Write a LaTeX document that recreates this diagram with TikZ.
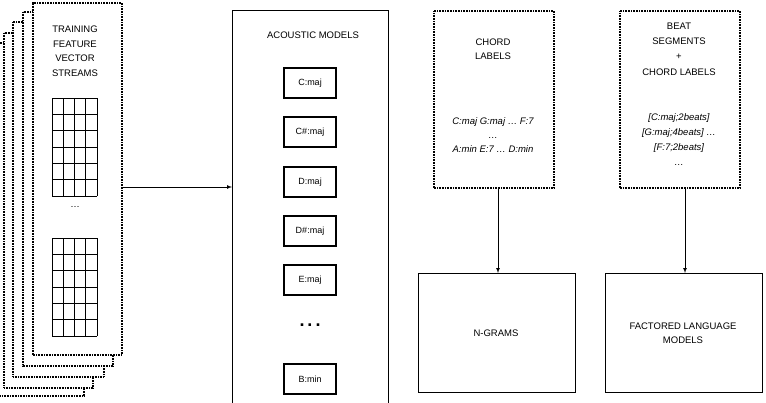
\documentclass[tikz,border=0pt]{standalone}
\usepackage{fontspec}
\setmainfont{Liberation Sans}
\begin{document}
\begin{tikzpicture}[x=1pt,y=-1pt,
  dots/.style={line width=1.5pt,dash pattern=on 1pt off 0.6pt},
  sheet/.style={draw,dots,fill=white},
  dbox/.style={draw,dots},
  sbox/.style={draw,line width=0.7pt},
  mbox/.style={draw,line width=1.5pt,minimum width=52pt,minimum height=30pt,inner sep=0pt,font=\fontsize{9}{10}\selectfont},
  txt/.style={align=center,font=\fontsize{9.5}{14.5}\selectfont,inner sep=0pt},
  itxt/.style={align=center,font=\fontsize{9.5}{14.5}\itshape\selectfont,inner sep=0pt},
  gridl/.style={line width=0.6pt},
  arr/.style={-latex,line width=0.7pt}]
\useasboundingbox (0,0) rectangle (766,402);
\begin{scope}
\clip (0,0) rectangle (766,402);
\draw[sheet] (-5,43) rectangle (84,396);
\draw[sheet] (4,33) rectangle (93,388);
\draw[sheet] (13,22) rectangle (104,377);
\draw[sheet] (23,12) rectangle (113,366);
\node[sheet,minimum width=89pt,minimum height=352pt,anchor=north west,inner sep=0pt] (front) at (32,2) {};
\node[txt] (ttl) at (75,51) {TRAINING\\FEATURE\\VECTOR\\STREAMS};
\node[inner sep=0pt,minimum width=45pt,minimum height=98pt,anchor=north west] (g1) at (52,98) {};
\node[inner sep=0pt,minimum width=45pt,minimum height=98pt,anchor=north west] (g2) at (52,238) {};
\foreach \y in {98,238}{
  \foreach \i in {0,...,4} \draw[gridl] ({52+11.25*\i},\y) -- ({52+11.25*\i},\y+98);
  \foreach \j in {0,...,6} \draw[gridl] (52,{\y+98/6*\j}) -- (97,{\y+98/6*\j});
}
\node[txt] (d1) at (75,207) {\dots};
\node[sbox,minimum width=156pt,minimum height=400pt,anchor=north west,inner sep=0pt] (ac) at (232,10) {};
\node[txt] (act) at (313,35) {ACOUSTIC MODELS};
\node[mbox] (m1) at (310,83) {C:maj};
\node[mbox] (m2) at (310,132) {C\#:maj};
\node[mbox] (m3) at (310,182) {D:maj};
\node[mbox] (m4) at (310,231) {D\#:maj};
\node[mbox] (m5) at (310,280) {E:maj};
\node[font=\fontsize{18}{18}\bfseries\selectfont,inner sep=0pt] (md) at (310,325) {.\,.\,.};
\node[mbox] (m6) at (310,379) {B:min};
\end{scope}
\coordinate (fa) at (121,187);
\coordinate (aa) at (232,187);
\draw[arr] (fa) -- (aa);
\node[dbox,minimum width=120pt,minimum height=177pt,anchor=north west,inner sep=0pt] (ch) at (433,10) {};
\node[txt] (cht) at (493,49) {CHORD\\LABELS};
\node[itxt,font=\fontsize{9.5}{14}\itshape\selectfont] (chi) at (493,135) {C:maj G:maj \dots\ F:7\\\dots\\A:min E:7 \dots\ D:min};
\node[dbox,minimum width=120pt,minimum height=177pt,anchor=north west,inner sep=0pt] (bt) at (619,10) {};
\node[txt,font=\fontsize{9.5}{15.3}\selectfont] (btt) at (679,49) {BEAT\\SEGMENTS\\+\\CHORD LABELS};
\node[itxt,font=\fontsize{9.5}{15}\itshape\selectfont] (bti) at (679,140) {[C:maj;2beats]\\{}[G:maj;4beats] \dots\\{}[F:7;2beats]\\\dots};
\node[sbox,minimum width=157pt,minimum height=119pt,anchor=north west,inner sep=0pt] (ng) at (418,273) {};
\node[txt] (ngt) at (496,333) {N-GRAMS};
\node[sbox,minimum width=157pt,minimum height=119pt,anchor=north west,inner sep=0pt] (fl) at (605,273) {};
\node[txt,font=\fontsize{9.5}{14}\selectfont] (flt) at (683,333) {FACTORED LANGUAGE\\MODELS};
\draw[arr] (ch.south -| 498,0) -- (ng.north -| 498,0);
\draw[arr] (bt.south -| 685,0) -- (fl.north -| 685,0);
\end{tikzpicture}
\end{document}
